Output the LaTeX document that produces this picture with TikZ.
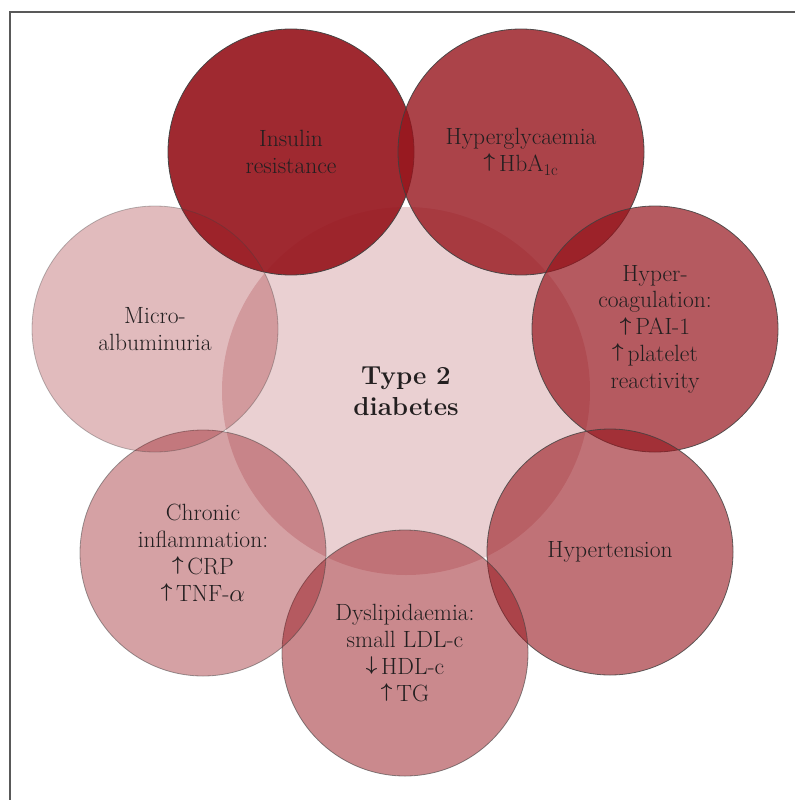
\documentclass[tikz,border=0pt]{standalone}
\usepackage{amsmath, amssymb, bm}
\usepackage{xcolor}
\usepackage{tikz}

\definecolor{diabred}{RGB}{150,20,28}
\definecolor{labeltext}{RGB}{35,31,32}
\newcommand{\up}{\raisebox{0.155em}{\scalebox{0.8}{$\boldsymbol{\uparrow}$}}\,}
\newcommand{\down}{\raisebox{0.155em}{\scalebox{0.8}{$\boldsymbol{\downarrow}$}}\,}

\begin{document}
\begin{tikzpicture}[x=1pt, y=-1pt,
    bubble/.style={circle, draw=black!75, line width=0.8pt, fill=diabred,
      minimum size=246pt, inner sep=0pt, align=center, text=labeltext,
      text opacity=1, font=\fontsize{23.5}{26.8}\selectfont},
    core/.style={circle, fill=diabred, fill opacity=0.2, minimum size=368pt,
      inner sep=0pt, align=center, text=labeltext, text opacity=1,
      font=\fontsize{26}{31}\selectfont\bfseries}]
        \useasboundingbox (0,0) rectangle (795,800);

        % Draw the frame (only top and left edges show)
        \draw[black!65, line width=1.2pt] (10,800) -- (10,12) -- (795,12);

        % Add the central circle
        \node[core] (diabetes) at (406,391) {Type 2\\diabetes};

        % Draw the ring of complications
        \node[bubble, fill opacity=0.91, draw opacity=0.95] (insulin) at (291,152) {Insulin\\resistance};
        \node[bubble, fill opacity=0.8, draw opacity=0.9] (hyperglyc) at (521,152) {Hyperglycaemia\\\up HbA\textsubscript{1c}};
        \node[bubble, fill opacity=0.7, draw opacity=0.85] (hypercoag) at (655,329) {Hyper-\\coagulation:\\\up PAI-1\\\up platelet\\reactivity};
        \node[bubble, fill opacity=0.6, draw opacity=0.8] (hypertens) at (610,552) {Hypertension};
        \node[bubble, fill opacity=0.5, draw opacity=0.6] (dyslip) at (405,653) {Dyslipidaemia:\\small LDL-c\\\down HDL-c\\\up TG};
        \node[bubble, fill opacity=0.4, draw opacity=0.5] (inflam) at (203,553) {Chronic\\inflammation:\\\up CRP\\\up TNF-$\alpha$};
        \node[bubble, fill opacity=0.29, draw opacity=0.35] (microalb) at (155,329) {Micro-\\albuminuria};
    \end{tikzpicture}
\end{document}
